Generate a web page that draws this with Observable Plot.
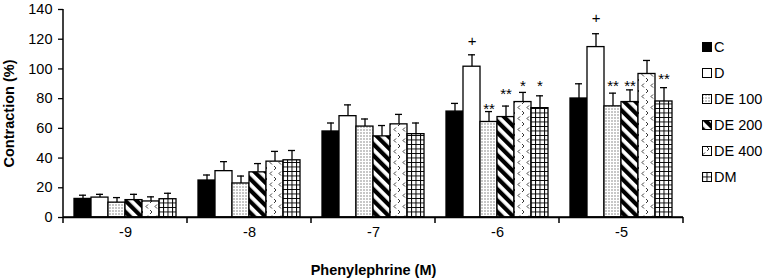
<!DOCTYPE html>
<html><head><meta charset="utf-8">
<script src="https://cdn.jsdelivr.net/npm/d3@7"></script>
<script src="https://cdn.jsdelivr.net/npm/@observablehq/plot@0.6"></script>
<style>
body{margin:0;background:#fff;}
#wrap{position:relative;width:769px;height:279px;font-family:"Liberation Sans",Arial,sans-serif;color:#000;}
.lg{position:absolute;left:702px;height:16px;display:flex;align-items:center;font-size:14.5px;white-space:nowrap;}
.lg svg{margin-right:2px;}
</style></head><body><div id="wrap"></div>
<script>
const groups = ["-9", "-8", "-7", "-6", "-5"];
const seriesNames = ["C", "D", "DE 100", "DE 200", "DE 400", "DM"];
// means per series, across groups
const meanC     = [12.5, 24.9, 57.9, 71.3, 80.1];
const meanD     = [13.4, 31.2, 68.2, 101.5, 114.7];
const meanDE100 = [10.0, 22.9, 61.2, 64.3, 74.8];
const meanDE200 = [11.7, 30.4, 54.6, 67.6, 77.7];
const meanDE400 = [10.8, 37.6, 62.7, 77.7, 96.6];
const meanDM    = [12.3, 38.5, 56.1, 73.6, 78.1];
// SEM (upper error bar length)
const semC     = [2.5, 3.7, 5.7, 5.5, 9.9];
const semD     = [2.2, 6.4, 7.6, 8.0, 9.0];
const semDE100 = [3.4, 5.0, 5.1, 7.0, 8.9];
const semDE200 = [3.9, 5.9, 7.3, 7.4, 8.2];
const semDE400 = [3.1, 6.9, 6.7, 6.5, 9.1];
const semDM    = [4.0, 6.6, 7.5, 8.3, 9.3];
const yTicks = [0, 20, 40, 60, 80, 100, 120, 140];
// significance marks
const sigGroups = ["-6", "-6", "-6", "-6", "-6", "-5", "-5", "-5", "-5"];
const sigSeries = ["D", "DE 100", "DE 200", "DE 400", "DM", "D", "DE 100", "DE 200", "DM"];
const sigTexts  = ["+", "**", "**", "*", "*", "+", "**", "**", "**"];
const sigLevels = [118.7, 75.7, 85.7, 91.1, 91.1, 134.7, 91.0, 91.0, 96.0];

const means = [meanC, meanD, meanDE100, meanDE200, meanDE400, meanDM];
const sems = [semC, semD, semDE100, semDE200, semDE400, semDM];
const fillOf = {"C": "black", "D": "white", "DE 100": "url(#pDots)", "DE 200": "url(#pStripes)", "DE 400": "url(#pChev)", "DM": "url(#pGrid)"};

const data = groups.flatMap((g, gi) => seriesNames.map((s, si) => ({
  group: g, series: s, value: means[si][gi], hi: means[si][gi] + sems[si][gi]
})));
const sig = sigTexts.map((t, i) => ({group: sigGroups[i], series: sigSeries[i], text: t, level: sigLevels[i]}));

const chart = Plot.plot({
  width: 769, height: 279,
  marginLeft: 62, marginRight: 85, marginTop: 9, marginBottom: 62,
  style: {fontFamily: '"Liberation Sans", Arial, sans-serif', fontSize: "14.5px", color: "#000", background: "#fff", overflow: "visible"},
  fx: {domain: groups, padding: 0},
  x: {domain: seriesNames, paddingInner: 0, paddingOuter: 0.455, axis: null},
  y: {domain: [0, 140]},
  color: {type: "identity"},
  marks: [
    Plot.axisY({ticks: yTicks, tickSize: 5, tickPadding: 6, label: "Contraction (%)", labelAnchor: "center", labelOffset: 60, labelArrow: "none", strokeWidth: 1.3}),
    Plot.axisFx({anchor: "bottom", tickSize: 0, tickPadding: 9, label: "Phenylephrine (M)", labelAnchor: "center", labelOffset: 57}),
    Plot.ruleX(data, {fx: "group", x: "series", y1: "value", y2: "hi", stroke: "black", strokeWidth: 1.3}),
    Plot.tickY(data, {fx: "group", x: "series", y: "hi", insetLeft: 5, insetRight: 5, stroke: "black", strokeWidth: 1.3}),
    Plot.barY(data, {fx: "group", x: "series", y: "value", fill: d => fillOf[d.series], stroke: "black", strokeWidth: 1.3, inset: 0}),
    Plot.ruleY([0], {stroke: "black", strokeWidth: 1.5}),
    Plot.text(sig.filter(d => d.text !== "+"), {fx: "group", x: "series", y: "level", text: "text", fontSize: 15, dy: 4, fill: "black"}),
    Plot.text(sig.filter(d => d.text === "+"), {fx: "group", x: "series", y: "level", text: "text", fontSize: 15, dy: 0.5, fill: "black"})
  ]
});

// pattern definitions
const svg = d3.select(chart.tagName.toLowerCase() === "svg" ? chart : chart.querySelector("svg"));
const defs = svg.insert("defs", ":first-child");
const pd = defs.append("pattern").attr("id", "pDots").attr("patternUnits", "userSpaceOnUse").attr("width", 3).attr("height", 3);
pd.append("rect").attr("width", 3).attr("height", 3).attr("fill", "white");
pd.append("rect").attr("x", 0.5).attr("y", 0.5).attr("width", 1).attr("height", 1).attr("fill", "#222");
const ps = defs.append("pattern").attr("id", "pStripes").attr("patternUnits", "userSpaceOnUse").attr("width", 8).attr("height", 8).attr("patternTransform", "rotate(-45)");
ps.append("rect").attr("width", 8).attr("height", 8).attr("fill", "white");
ps.append("rect").attr("width", 4.2).attr("height", 8).attr("fill", "black");
const pc = defs.append("pattern").attr("id", "pChev").attr("patternUnits", "userSpaceOnUse").attr("width", 9).attr("height", 11);
pc.append("rect").attr("width", 9).attr("height", 11).attr("fill", "white");
pc.append("path").attr("d", "M5,1 L7,3 L5,5 M3,6.5 L1,8.5 L3,10.5").attr("fill", "none").attr("stroke", "#222").attr("stroke-width", 0.9);
const pg = defs.append("pattern").attr("id", "pGrid").attr("patternUnits", "userSpaceOnUse").attr("width", 4.5).attr("height", 4.5);
pg.append("rect").attr("width", 4.5).attr("height", 4.5).attr("fill", "white");
pg.append("path").attr("d", "M0,0.5 H4.5 M0.5,0 V4.5").attr("stroke", "black").attr("stroke-width", 1);

// axis decorations using the plot's own scales
const fx = chart.scale("fx"), ys = chart.scale("y");
const bounds = groups.map(g => fx.apply(g)).concat([fx.apply(groups[groups.length - 1]) + fx.bandwidth]);
const y0 = ys.apply(0);
const deco = svg.append("g").attr("stroke", "black").attr("stroke-width", 1.5);
deco.selectAll("line.b").data(bounds).join("line").attr("class", "b")
  .attr("x1", d => d).attr("x2", d => d).attr("y1", y0).attr("y2", y0 + 6);
deco.append("line").attr("x1", bounds[0]).attr("x2", bounds[0]).attr("y1", ys.apply(140)).attr("y2", y0);
deco.append("line").attr("x1", bounds[0]).attr("x2", bounds[bounds.length - 1]).attr("y1", y0).attr("y2", y0);
svg.selectAll("text").filter(function () {
  const t = this.textContent;
  return t === "Contraction (%)" || t === "Phenylephrine (M)";
}).attr("font-weight", "bold").attr("font-size", 14.5);

const wrap = document.getElementById("wrap");
wrap.appendChild(chart);
// legend
const legendTops = [46.7, 72.7, 98.7, 124.7, 150.7, 176.7];
seriesNames.forEach((s, i) => {
  const row = document.createElement("div");
  row.className = "lg";
  row.style.top = (legendTops[i] - 8) + "px";
  row.innerHTML = `<svg width="10" height="10"><rect x="0.5" y="0.5" width="9" height="9" fill="${fillOf[s]}" stroke="black" stroke-width="1"/></svg><span>${s}</span>`;
  wrap.appendChild(row);
});
</script></body></html>
